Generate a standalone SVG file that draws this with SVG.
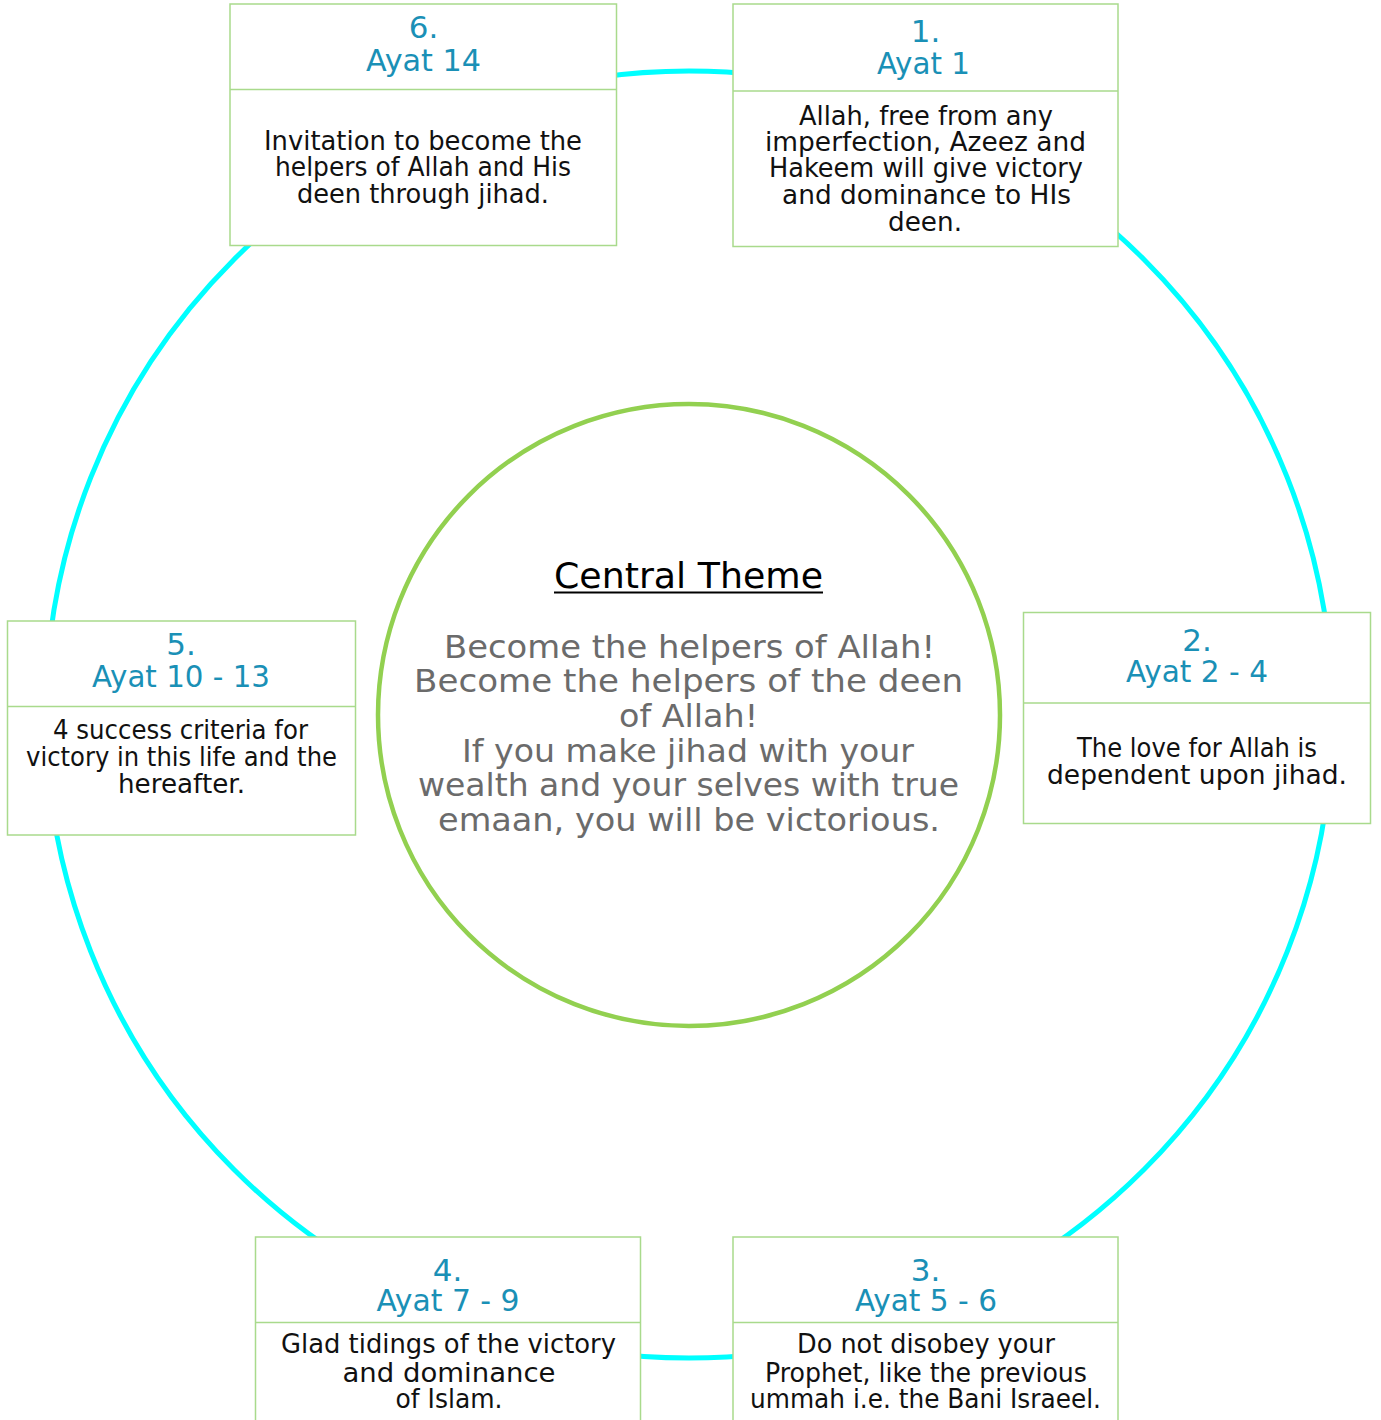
<svg xmlns="http://www.w3.org/2000/svg" width="1381" height="1420" viewBox="0 0 1381 1420">
<style>
.box{fill:#fff;stroke:#a9da8c;stroke-width:1.5}
.div{stroke:#a9da8c;stroke-width:1.5}
.num{font-family:"DejaVu Sans",sans-serif;font-size:31px;fill:#1a90b6;text-anchor:middle}
.hd{font-family:"DejaVu Sans",sans-serif;font-size:31px;fill:#1a90b6;text-anchor:middle}
.bd{font-family:"DejaVu Sans",sans-serif;font-size:26px;fill:#111;text-anchor:middle}
.ct{font-family:"DejaVu Sans",sans-serif;font-size:32px;fill:#6b6b6b;text-anchor:middle}
.ttl{font-family:"DejaVu Sans",sans-serif;font-size:36px;fill:#000;text-anchor:middle}
</style>
<rect width="1381" height="1420" fill="#fff"/>
<g id="connectors">
<circle cx="689" cy="714.5" r="643.5" fill="none" stroke="#00ffff" stroke-width="5"/>
</g>
<g id="center">
<circle cx="689" cy="715" r="311" fill="#fff" stroke="#92d050" stroke-width="4.5"/>
<text class="ttl" x="688.5" y="588" textLength="269" lengthAdjust="spacingAndGlyphs">Central Theme</text>
<line x1="554" y1="592.5" x2="823" y2="592.5" stroke="#000" stroke-width="2"/>
<text class="ct" x="689.5" y="658" textLength="491" lengthAdjust="spacingAndGlyphs">Become the helpers of Allah!</text>
<text class="ct" x="688.5" y="692" textLength="549" lengthAdjust="spacingAndGlyphs">Become the helpers of the deen</text>
<text class="ct" x="688.5" y="727" textLength="139" lengthAdjust="spacingAndGlyphs">of Allah!</text>
<text class="ct" x="688" y="762" textLength="452" lengthAdjust="spacingAndGlyphs">If you make jihad with your</text>
<text class="ct" x="688.5" y="796" textLength="541" lengthAdjust="spacingAndGlyphs">wealth and your selves with true</text>
<text class="ct" x="689" y="831" textLength="502" lengthAdjust="spacingAndGlyphs">emaan, you will be victorious.</text>
</g>
<g id="node1">
<rect class="box" x="733" y="4" width="385" height="242.5"/>
<line class="div" x1="733" y1="91" x2="1118" y2="91"/>
<text class="num" x="925.5" y="42">1.</text>
<text class="hd" x="923.5" y="74" textLength="93" lengthAdjust="spacingAndGlyphs">Ayat 1</text>
<text class="bd" x="926" y="125" textLength="254" lengthAdjust="spacingAndGlyphs">Allah, free from any</text>
<text class="bd" x="925.5" y="151" textLength="321" lengthAdjust="spacingAndGlyphs">imperfection, Azeez and</text>
<text class="bd" x="926" y="177" textLength="314" lengthAdjust="spacingAndGlyphs">Hakeem will give victory</text>
<text class="bd" x="926.5" y="204" textLength="289" lengthAdjust="spacingAndGlyphs">and dominance to HIs</text>
<text class="bd" x="925" y="231" textLength="74" lengthAdjust="spacingAndGlyphs">deen.</text>
</g>
<g id="node2">
<rect class="box" x="1023.5" y="612.5" width="347" height="211"/>
<line class="div" x1="1023.5" y1="703" x2="1370.5" y2="703"/>
<text class="num" x="1197" y="651">2.</text>
<text class="hd" x="1197" y="682" textLength="142" lengthAdjust="spacingAndGlyphs">Ayat 2 - 4</text>
<text class="bd" x="1197" y="757" textLength="240" lengthAdjust="spacingAndGlyphs">The love for Allah is</text>
<text class="bd" x="1197" y="784" textLength="300" lengthAdjust="spacingAndGlyphs">dependent upon jihad.</text>
</g>
<g id="node3">
<rect class="box" x="733" y="1237" width="385" height="190"/>
<line class="div" x1="733" y1="1322.5" x2="1118" y2="1322.5"/>
<text class="num" x="925.5" y="1281">3.</text>
<text class="hd" x="926" y="1311" textLength="142" lengthAdjust="spacingAndGlyphs">Ayat 5 - 6</text>
<text class="bd" x="926" y="1353" textLength="258" lengthAdjust="spacingAndGlyphs">Do not disobey your</text>
<text class="bd" x="926" y="1382" textLength="322" lengthAdjust="spacingAndGlyphs">Prophet, like the previous</text>
<text class="bd" x="925.5" y="1408" textLength="351" lengthAdjust="spacingAndGlyphs">ummah i.e. the Bani Israeel.</text>
</g>
<g id="node4">
<rect class="box" x="255.5" y="1237" width="385" height="190"/>
<line class="div" x1="255.5" y1="1322.5" x2="640.5" y2="1322.5"/>
<text class="num" x="447.5" y="1281">4.</text>
<text class="hd" x="448" y="1311" textLength="143" lengthAdjust="spacingAndGlyphs">Ayat 7 - 9</text>
<text class="bd" x="448.5" y="1353" textLength="335" lengthAdjust="spacingAndGlyphs">Glad tidings of the victory</text>
<text class="bd" x="449" y="1382" textLength="213" lengthAdjust="spacingAndGlyphs">and dominance</text>
<text class="bd" x="449" y="1408" textLength="107" lengthAdjust="spacingAndGlyphs">of Islam.</text>
</g>
<g id="node5">
<rect class="box" x="7.5" y="621" width="348" height="214"/>
<line class="div" x1="7.5" y1="706.5" x2="355.5" y2="706.5"/>
<text class="num" x="181" y="655">5.</text>
<text class="hd" x="181" y="687" textLength="178" lengthAdjust="spacingAndGlyphs">Ayat 10 - 13</text>
<text class="bd" x="180.5" y="739" textLength="255" lengthAdjust="spacingAndGlyphs">4 success criteria for</text>
<text class="bd" x="181.5" y="766" textLength="311" lengthAdjust="spacingAndGlyphs">victory in this life and the</text>
<text class="bd" x="181.5" y="793" textLength="127" lengthAdjust="spacingAndGlyphs">hereafter.</text>
</g>
<g id="node6">
<rect class="box" x="230" y="4" width="386.5" height="241.5"/>
<line class="div" x1="230" y1="89.5" x2="616.5" y2="89.5"/>
<text class="num" x="423.5" y="38">6.</text>
<text class="hd" x="423.5" y="71" textLength="115" lengthAdjust="spacingAndGlyphs">Ayat 14</text>
<text class="bd" x="423" y="150" textLength="318" lengthAdjust="spacingAndGlyphs">Invitation to become the</text>
<text class="bd" x="423" y="176" textLength="296" lengthAdjust="spacingAndGlyphs">helpers of Allah and His</text>
<text class="bd" x="423" y="203" textLength="252" lengthAdjust="spacingAndGlyphs">deen through jihad.</text>
</g>
</svg>
